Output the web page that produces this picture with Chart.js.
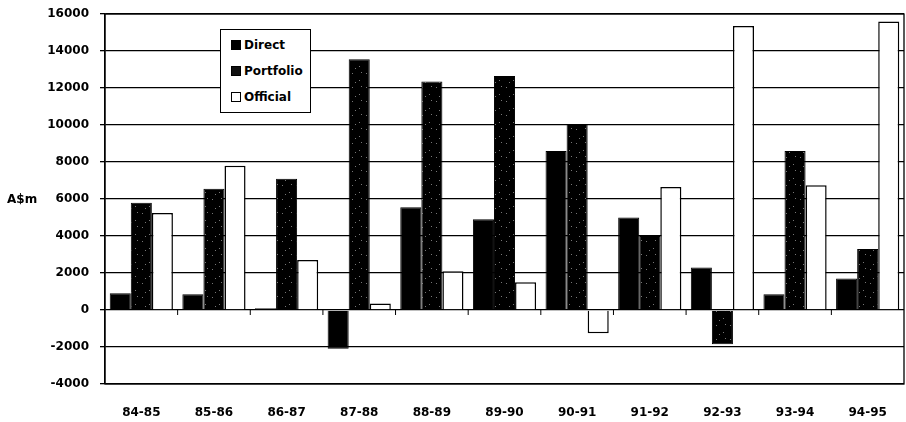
<!DOCTYPE html>
<html>
<head>
<meta charset="utf-8">
<script src="https://cdn.jsdelivr.net/npm/chart.js@4/dist/chart.umd.min.js"></script>
<style>
  html, body { margin: 0; padding: 0; background: #fff; }
  #wrap { position: relative; width: 906px; height: 422px; }
  #yTitle { position: absolute; left: 7px; top: 192px; font: bold 12px "DejaVu Sans", sans-serif; color: #000; }
  #legend { position: absolute; left: 220px; top: 29px; width: 91px; height: 84px; border: 1.3px solid #000; background: #fff;
    font: bold 12px "DejaVu Sans", sans-serif; color: #000; box-sizing: border-box; }
  #legend div { position: absolute; left: 10px; height: 14px; line-height: 14px; white-space: nowrap; }
  #legend span { display: inline-block; width: 10px; height: 10px; border: 1px solid #000; box-sizing: border-box; margin-right: 3px; vertical-align: -1px; }
</style>
</head>
<body>
<div id="wrap">
  <canvas id="c" width="906" height="422"></canvas>
  <div id="yTitle">A$m</div>
  <div id="legend">
    <div style="top:8px"><span style="background:#000"></span>Direct</div>
    <div style="top:34px"><span style="background:#111"></span>Portfolio</div>
    <div style="top:60px"><span style="background:#fff"></span>Official</div>
  </div>
</div>
<script>
const years = ['84-85', '85-86', '86-87', '87-88', '88-89', '89-90', '90-91', '91-92', '92-93', '93-94', '94-95'];
const direct = [900, 850, 100, -2100, 5550, 4900, 8600, 5000, 2300, 850, 1700];
const portfolio = [5800, 6550, 7100, 13550, 12350, 12650, 10050, 4000, -1850, 8600, 3300];
const official = [5250, 7800, 2700, 350, 2100, 1500, -1250, 6650, 15350, 6750, 15600];
const yTicks = [-4000, -2000, 0, 2000, 4000, 6000, 8000, 10000, 12000, 14000, 16000];

// mostly black fill with sparse grey specks for Portfolio
function stipple() {
  const p = document.createElement('canvas');
  p.width = 14; p.height = 14;
  const g = p.getContext('2d');
  g.fillStyle = '#000'; g.fillRect(0, 0, 14, 14);
  g.fillStyle = '#777';
  g.fillRect(2, 3, 1, 1); g.fillRect(9, 10, 1, 1); g.fillRect(11, 2, 1, 1); g.fillRect(5, 12, 1, 1);
  return g.createPattern(p, 'repeat');
}

const font = { family: '"DejaVu Sans", sans-serif', size: 12, weight: 'bold' };

// frame and small ticks on the zero line
const frame = {
  id: 'frame',
  afterDraw(chart) {
    const { ctx, chartArea: a, scales: { x, y } } = chart;
    ctx.save();
    ctx.strokeStyle = '#000'; ctx.lineWidth = 1.3;
    ctx.strokeRect(a.left, a.top, a.right - a.left, a.bottom - a.top);
    const y0 = y.getPixelForValue(0);
    ctx.lineWidth = 1;
    for (let i = 1; i < years.length; i++) {
      const px = (x.getPixelForValue(i - 1) + x.getPixelForValue(i)) / 2;
      ctx.beginPath(); ctx.moveTo(px, y0); ctx.lineTo(px, y0 + 5); ctx.stroke();
    }
    ctx.restore();
  }
};

new Chart(document.getElementById('c'), {
  type: 'bar',
  data: {
    labels: years,
    datasets: [
      { label: 'Direct', data: direct, backgroundColor: '#000', borderColor: '#000', borderWidth: 1 },
      { label: 'Portfolio', data: portfolio, backgroundColor: stipple(), borderColor: '#000', borderWidth: 1 },
      { label: 'Official', data: official, backgroundColor: '#fff', borderColor: '#000', borderWidth: 1.5 }
    ]
  },
  options: {
    responsive: false,
    animation: false,
    layout: { padding: { left: 0, top: 14, right: 2, bottom: 0 } },
    plugins: { legend: { display: false }, tooltip: { enabled: false } },
    datasets: { bar: { categoryPercentage: 0.87, barPercentage: 1 } },
    scales: {
      x: {
        grid: { display: false },
        border: { display: false },
        ticks: { color: '#000', font, padding: 14, maxRotation: 0 },
        afterFit: s => { s.height = 38; s.paddingLeft = 0; s.paddingRight = 0; }
      },
      y: {
        min: -4000, max: 16000,
        afterBuildTicks: s => { s.ticks = yTicks.map(v => ({ value: v })); },
        grid: { color: '#000', lineWidth: 1.3, tickLength: 5 },
        border: { color: '#000', width: 1.3 },
        ticks: { color: '#000', font, padding: 11, callback: v => String(v) },
        afterFit: s => { s.width = 105; s.paddingTop = 0; s.paddingBottom = 0; }
      }
    }
  },
  plugins: [frame]
});
</script>
</body>
</html>
